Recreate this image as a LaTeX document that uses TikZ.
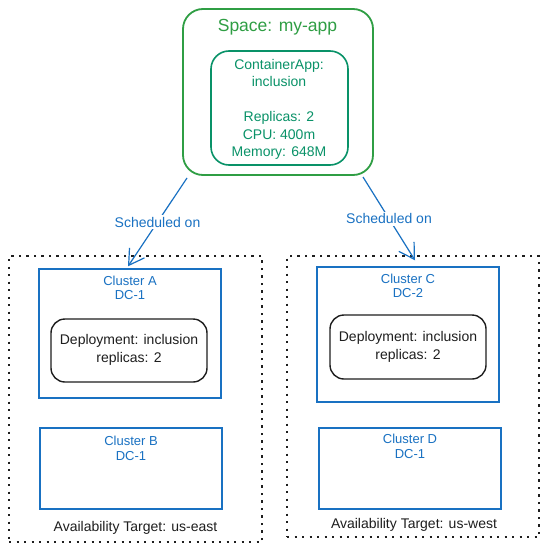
\documentclass[tikz,border=0pt]{standalone}
\usepackage{fontspec}
\setmainfont{Liberation Sans}
\usetikzlibrary{arrows.meta}
\definecolor{grn}{HTML}{2F9E44}
\definecolor{tealc}{HTML}{099268}
\definecolor{blu}{HTML}{1971C2}
\definecolor{ink}{HTML}{1E1E1E}
\begin{document}
\begin{tikzpicture}[x=1pt,y=-1pt,
  spacebox/.style={draw=grn, line width=1.8pt, rounded corners=20pt, inner sep=0pt},
  appbox/.style={draw=tealc, line width=1.6pt, rounded corners=18pt, inner sep=0pt},
  zonebox/.style={draw=ink, line width=1.4pt, dash pattern=on 2.2pt off 5.3pt, inner sep=0pt},
  clusterbox/.style={draw=blu, line width=1.4pt, inner sep=0pt},
  depbox/.style={draw=ink, line width=1.4pt, rounded corners=14pt, inner sep=0pt},
  ttl/.style={text=grn, font=\fontsize{17.5}{20}\selectfont, inner sep=0pt},
  apptxt/.style={text=tealc, align=center, font=\fontsize{14}{17.5}\selectfont, inner sep=0pt},
  cltxt/.style={text=blu, align=center, font=\fontsize{13}{14.5}\selectfont, inner sep=0pt},
  deptxt/.style={text=ink, align=center, font=\fontsize{14}{18}\selectfont, inner sep=0pt},
  zonetxt/.style={text=ink, font=\fontsize{14}{16}\selectfont, inner sep=0pt},
  arr/.style={draw=blu, line width=1.2pt, -{Straight Barb[length=15pt,width=18pt,line width=1.2pt]}},
  lbl/.style={fill=white, text=blu, font=\fontsize{14}{16}\selectfont, inner sep=2pt}]
\useasboundingbox (0,0) rectangle (549,551);
\fill[white] (0,0) rectangle (549,551);

% space
\node[spacebox, minimum width=190pt, minimum height=166pt] (space) at (278,92) {};
\node[ttl] (spacet) at (277.5,27) {Space: my-app};
\node[appbox, minimum width=137pt, minimum height=114pt] (app) at (279.5,108) {};
\node[apptxt] (appt) at (279,109.5) {ContainerApp:\\inclusion\\[17.5pt]Replicas: 2\\CPU: 400m\\Memory: 648M};

% zones
\node[zonebox, minimum width=253pt, minimum height=286pt] (zeast) at (135.5,399) {};
\node[zonebox, minimum width=252pt, minimum height=281pt] (zwest) at (413,396.5) {};
\node[zonetxt] (zeastt) at (135.5,528) {Availability Target: us-east};
\node[zonetxt] (zwestt) at (414,525) {Availability Target: us-west};

% clusters
\node[clusterbox, minimum width=182pt, minimum height=129pt] (clA) at (130,333.5) {};
\node[cltxt] (clAt) at (130,288) {Cluster A\\DC-1};
\node[depbox, minimum width=156pt, minimum height=63pt] (depA) at (129,350.5) {};
\node[deptxt] (depAt) at (129,350) {Deployment: inclusion\\replicas: 2};

\node[clusterbox, minimum width=182pt, minimum height=81pt] (clB) at (131,468.5) {};
\node[cltxt] (clBt) at (131,448.5) {Cluster B\\DC-1};

\node[clusterbox, minimum width=182pt, minimum height=135pt] (clC) at (408,334.5) {};
\node[cltxt] (clCt) at (408,286) {Cluster C\\DC-2};
\node[depbox, minimum width=156pt, minimum height=64pt] (depC) at (408,347) {};
\node[deptxt] (depCt) at (408,346.5) {Deployment: inclusion\\replicas: 2};

\node[clusterbox, minimum width=182pt, minimum height=81pt] (clD) at (410,468.5) {};
\node[cltxt] (clDt) at (410,446.5) {Cluster D\\DC-1};

% connectors
\coordinate (s1) at (187,178);
\coordinate (s2) at (363,177);
\draw[arr] (s1) -- node[lbl] (l1) {Scheduled on} ([xshift=-2pt,yshift=2pt]clA.north);
\draw[arr] (s2) -- node[lbl] (l2) {Scheduled on} ([xshift=7pt,yshift=6pt]clC.north);
\end{tikzpicture}
\end{document}
